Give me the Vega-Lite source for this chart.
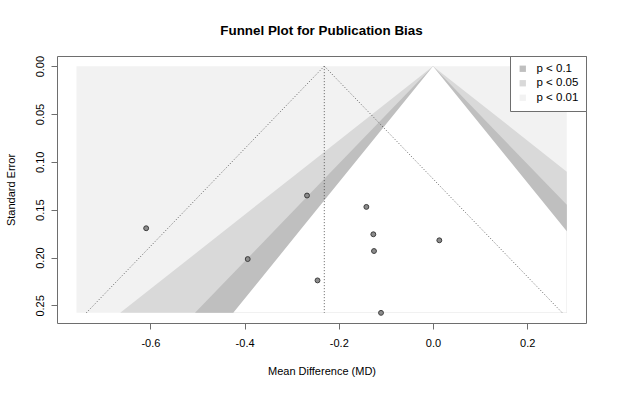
{
  "$schema": "https://vega.github.io/schema/vega-lite/v6.json",
  "width": 529,
  "height": 267,
  "autosize": "none",
  "padding": {"left": 57, "top": 56, "right": 32, "bottom": 70},
  "background": "white",
  "config": {
    "font": "Liberation Sans",
    "view": {"stroke": "#6e6e6e", "strokeWidth": 1},
    "axis": {"grid": false, "domain": false, "tickColor": "#6e6e6e", "tickSize": 6, "labelColor": "#000000", "labelFontSize": 11, "titleFontSize": 11, "titleFontWeight": "normal", "titleColor": "#000000", "labelFont": "Liberation Sans", "titleFont": "Liberation Sans"}
  },
  "title": {"text": "Funnel Plot for Publication Bias", "fontSize": 13.4, "fontWeight": "bold", "font": "Liberation Sans", "color": "#000000", "anchor": "middle", "offset": 18},
  "layer": [
    {
      "data": {"values": [
        {"se": 0, "lo": -0.757, "hi": 0.284, "band": "p < 0.01"},
        {"se": 0.2578, "lo": -0.757, "hi": 0.284, "band": "p < 0.01"}
      ]},
      "mark": {"type": "area", "orient": "horizontal", "opacity": 1},
      "encoding": {
        "y": {"field": "se", "type": "quantitative", "scale": {"domain": [-0.0106, 0.2684], "reverse": true, "nice": false, "zero": false},
          "axis": {"values": [0, 0.05, 0.1, 0.15, 0.2, 0.25], "format": ".2f", "labelAngle": -90, "labelAlign": "center", "labelBaseline": "bottom", "labelPadding": 6, "title": "Standard Error", "titlePadding": 18}},
        "x": {"field": "lo", "type": "quantitative", "scale": {"domain": [-0.7983, 0.3248], "nice": false, "zero": false},
          "axis": {"values": [-0.6, -0.4, -0.2, 0, 0.2], "format": ".1f", "labelExpr": "replace(datum.label, '\u2212', '-')", "labelPadding": 8, "title": "Mean Difference (MD)", "titlePadding": 17}},
        "x2": {"field": "hi"},
        "color": {"field": "band", "type": "nominal",
          "scale": {"domain": ["p < 0.1", "p < 0.05", "p < 0.01"], "range": ["#bfbfbf", "#d9d9d9", "#f2f2f2"]},
          "legend": {"title": null, "orient": "top-right", "offset": 0, "symbolType": "square", "symbolSize": 40, "symbolStrokeWidth": 0, "labelFontSize": 11.5, "labelFont": "Liberation Sans", "labelColor": "#000000", "labelOffset": 8, "padding": 7, "rowPadding": 1.5, "fillColor": "white", "strokeColor": "#6e6e6e"}}
      }
    },
    {
      "data": {"values": [
        {"se": 0, "lo": 0, "hi": 0, "band": "p < 0.05"},
        {"se": 0.11025, "lo": -0.284, "hi": 0.284, "band": "p < 0.05"},
        {"se": 0.2578, "lo": -0.6641, "hi": 0.284, "band": "p < 0.05"}
      ]},
      "mark": {"type": "area", "orient": "horizontal", "opacity": 1},
      "encoding": {
        "y": {"field": "se", "type": "quantitative"},
        "x": {"field": "lo", "type": "quantitative"},
        "x2": {"field": "hi"},
        "color": {"field": "band", "type": "nominal"}
      }
    },
    {
      "data": {"values": [
        {"se": 0, "lo": 0, "hi": 0, "band": "p < 0.1"},
        {"se": 0.1449, "lo": -0.284, "hi": 0.284, "band": "p < 0.1"},
        {"se": 0.2578, "lo": -0.5053, "hi": 0.284, "band": "p < 0.1"}
      ]},
      "mark": {"type": "area", "orient": "horizontal", "opacity": 1},
      "encoding": {
        "y": {"field": "se", "type": "quantitative"},
        "x": {"field": "lo", "type": "quantitative"},
        "x2": {"field": "hi"},
        "color": {"field": "band", "type": "nominal"}
      }
    },
    {
      "data": {"values": [
        {"se": 0, "lo": 0, "hi": 0},
        {"se": 0.17264, "lo": -0.284, "hi": 0.284},
        {"se": 0.2578, "lo": -0.4241, "hi": 0.284}
      ]},
      "mark": {"type": "area", "orient": "horizontal", "opacity": 1, "color": "white"},
      "encoding": {
        "y": {"field": "se", "type": "quantitative"},
        "x": {"field": "lo", "type": "quantitative"},
        "x2": {"field": "hi"}
      }
    },
    {
      "data": {"values": [
        {"md": -0.7361, "se": 0.2578, "i": 0},
        {"md": -0.2308, "se": 0, "i": 1},
        {"md": 0.2745, "se": 0.2578, "i": 2}
      ]},
      "mark": {"type": "line", "color": "#3a3a3a", "strokeWidth": 0.8, "strokeDash": [1, 2]},
      "encoding": {
        "x": {"field": "md", "type": "quantitative"},
        "y": {"field": "se", "type": "quantitative"},
        "order": {"field": "i", "type": "quantitative"}
      }
    },
    {
      "data": {"values": [{"md": -0.2308, "se0": 0, "se1": 0.2578}]},
      "mark": {"type": "rule", "color": "#3a3a3a", "strokeWidth": 0.8, "strokeDash": [1, 2]},
      "encoding": {
        "x": {"field": "md", "type": "quantitative"},
        "y": {"field": "se0", "type": "quantitative"},
        "y2": {"field": "se1"}
      }
    },
    {
      "data": {"values": [
        {"study": 1, "md": -0.609, "se": 0.1694},
        {"study": 2, "md": -0.3934, "se": 0.2016},
        {"study": 3, "md": -0.2675, "se": 0.1352},
        {"study": 4, "md": -0.2452, "se": 0.2239},
        {"study": 5, "md": -0.1415, "se": 0.1471},
        {"study": 6, "md": -0.1267, "se": 0.1757},
        {"study": 7, "md": -0.1253, "se": 0.1932},
        {"study": 8, "md": 0.0134, "se": 0.182},
        {"study": 9, "md": -0.1104, "se": 0.2578}
      ]},
      "mark": {"type": "point", "shape": "circle", "filled": true, "fill": "#8c8c8c", "stroke": "#3c3c3c", "strokeWidth": 1, "size": 24, "opacity": 1},
      "encoding": {
        "x": {"field": "md", "type": "quantitative"},
        "y": {"field": "se", "type": "quantitative"}
      }
    }
  ]
}
